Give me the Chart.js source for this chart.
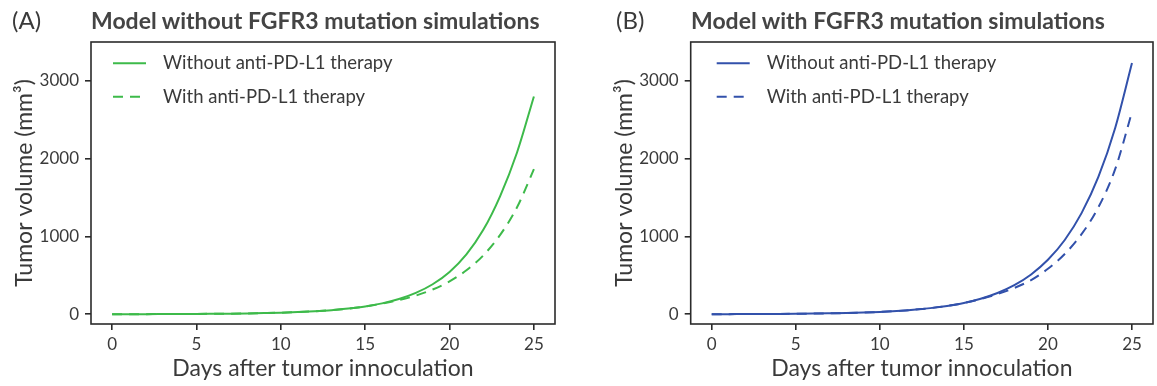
<!DOCTYPE html>
<html>
<head>
<meta charset="utf-8">
<script src="https://cdn.jsdelivr.net/npm/chart.js@4.4.1/dist/chart.umd.min.js"></script>
<style>
  html, body { margin: 0; padding: 0; background: #fff; }
  #wrap { position: relative; width: 1157px; height: 386px; overflow: hidden; font-family: Lato, "Open Sans", sans-serif; }
  canvas { position: absolute; top: 0; }
  .lbl { position: absolute; color: #3a3a3a; white-space: nowrap; line-height: 1; }
  .panel { font-size: 24px; font-weight: 400; }
  .ttl { font-size: 23px; font-weight: 700; color: #444; }
</style>
</head>
<body>
<div id="wrap">
  <canvas id="cA" width="578" height="386" style="left:0px"></canvas>
  <canvas id="cB" width="579" height="386" style="left:578px"></canvas>
  <div class="lbl panel" style="left:12px; top:8px;">(A)</div>
  <div class="lbl ttl" style="left:91px; top:9px;">Model without FGFR3 mutation simulations</div>
  <div class="lbl panel" style="left:616px; top:8px;">(B)</div>
  <div class="lbl ttl" style="left:691px; top:9px;">Model with FGFR3 mutation simulations</div>
</div>
<script>
// ---- data ----
const days = [0,1,2,3,4,5,6,7,8,9,10,11,12,13,14,15,16,17,18,19,20,21,22,23,24,25];
const solidA  = [1.0,1.3,1.8,2.4,3.2,4.3,6,8,11,15,20,28,39,53,73,100,140,196,275,386,545,770,1085,1520,2080,2800];
const dashedA = [1.0,1.3,1.8,2.4,3.2,4.3,6,8,11,15,20,28,39,53,73,100,137,182,240,318,423,565,757,1020,1375,1865];
const solidB  = [1.3,1.8,2.4,3.3,4.5,6.2,8.5,12,16,22,30,42,58,79,107,145,200,274,374,512,700,955,1300,1765,2395,3230];
const dashedB = [1.3,1.8,2.4,3.3,4.5,6.2,8.5,12,16,22,30,42,58,79,107,145,197,260,338,440,585,775,1030,1375,1865,2600];
const xTicks = [0,5,10,15,20,25];
const yTicks = [0,1000,2000,3000];
const seriesLabels = ["Without anti-PD-L1 therapy", "With anti-PD-L1 therapy"];
const xTitle = "Days after tumor innoculation";
const yTitle = "Tumor volume (mm\u00B3)";

const GREEN = "#3dba4a";
const BLUE = "#3251ab";
const AXIS = "#2b2b2b";
const TEXT = "#3a3a3a";
const FONT = "Lato, 'Open Sans', sans-serif";

const framePlugin = {
  id: "frame",
  afterDatasetsDraw(chart) {
    const {ctx, chartArea: a} = chart;
    ctx.save();
    ctx.strokeStyle = AXIS;
    ctx.lineWidth = 1.6;
    ctx.strokeRect(a.left, a.top, a.right - a.left, a.bottom - a.top);
    ctx.restore();
  }
};

const legendPlugin = {
  id: "insideLegend",
  afterDraw(chart, args, opts) {
    const {ctx, chartArea: a} = chart;
    ctx.save();
    chart.data.datasets.forEach((ds, i) => {
      const y = a.top + opts.firstRow + i * opts.rowGap;
      const x0 = a.left + opts.sampleStart;
      ctx.strokeStyle = ds.borderColor;
      ctx.lineWidth = ds.borderWidth;
      ctx.setLineDash(ds.borderDash || []);
      ctx.beginPath();
      ctx.moveTo(x0, y);
      ctx.lineTo(x0 + opts.sampleLen, y);
      ctx.stroke();
      ctx.setLineDash([]);
      ctx.fillStyle = TEXT;
      ctx.font = "18.5px " + FONT;
      ctx.textBaseline = "middle";
      ctx.textAlign = "left";
      ctx.fillText(ds.label, x0 + opts.textOffset, y);
    });
    ctx.restore();
  }
};

function makeChart(id, solid, dashed, color, padLeft, padRight, legendStart) {
  const pts = arr => days.map((d, i) => ({x: d, y: arr[i]}));
  return new Chart(document.getElementById(id), {
    type: "line",
    data: {
      datasets: [
        { label: seriesLabels[0], data: pts(solid), borderColor: color, borderWidth: 2, pointRadius: 0, cubicInterpolationMode: "monotone", fill: false },
        { label: seriesLabels[1], data: pts(dashed), borderColor: color, borderWidth: 2, borderDash: [10, 7], pointRadius: 0, cubicInterpolationMode: "monotone", fill: false }
      ]
    },
    options: {
      responsive: false,
      devicePixelRatio: 1,
      animation: false,
      layout: { padding: { left: padLeft, right: padRight, top: 42, bottom: 0 } },
      plugins: {
        legend: { display: false },
        tooltip: { enabled: false },
        insideLegend: { firstRow: 21.3, rowGap: 33.4, sampleStart: legendStart, sampleLen: 33, textOffset: 50 }
      },
      scales: {
        x: {
          type: "linear",
          min: -1.25, max: 26.25,
          afterFit: s => { s.height = 62; },
          afterBuildTicks: s => { s.ticks = xTicks.map(v => ({value: v})); },
          border: { display: false },
          grid: { display: true, drawOnChartArea: false, drawTicks: true, tickLength: 6, color: AXIS, lineWidth: 1.6 },
          ticks: { color: TEXT, font: { family: FONT, size: 17 }, padding: 4, maxRotation: 0, callback: v => String(v) },
          title: { display: true, text: xTitle, color: TEXT, font: { family: FONT, size: 23 }, padding: { top: 0, bottom: 4 } }
        },
        y: {
          type: "linear",
          min: -125, max: 3500,
          afterFit: s => { s.width = 91; },
          afterBuildTicks: s => { s.ticks = yTicks.map(v => ({value: v})); },
          border: { display: false },
          grid: { display: true, drawOnChartArea: false, drawTicks: true, tickLength: 6, color: AXIS, lineWidth: 1.6 },
          ticks: { color: TEXT, font: { family: FONT, size: 17 }, padding: 6, callback: v => String(v) },
          title: { display: true, text: yTitle, color: TEXT, font: { family: FONT, size: 23 }, padding: { top: 11, bottom: 0 } }
        }
      }
    },
    plugins: [framePlugin, legendPlugin]
  });
}

makeChart("cA", solidA, dashedA, GREEN, 0, 23, 22);
makeChart("cB", solidB, dashedB, BLUE, 21.7, 4, 26);
</script>
</body>
</html>
